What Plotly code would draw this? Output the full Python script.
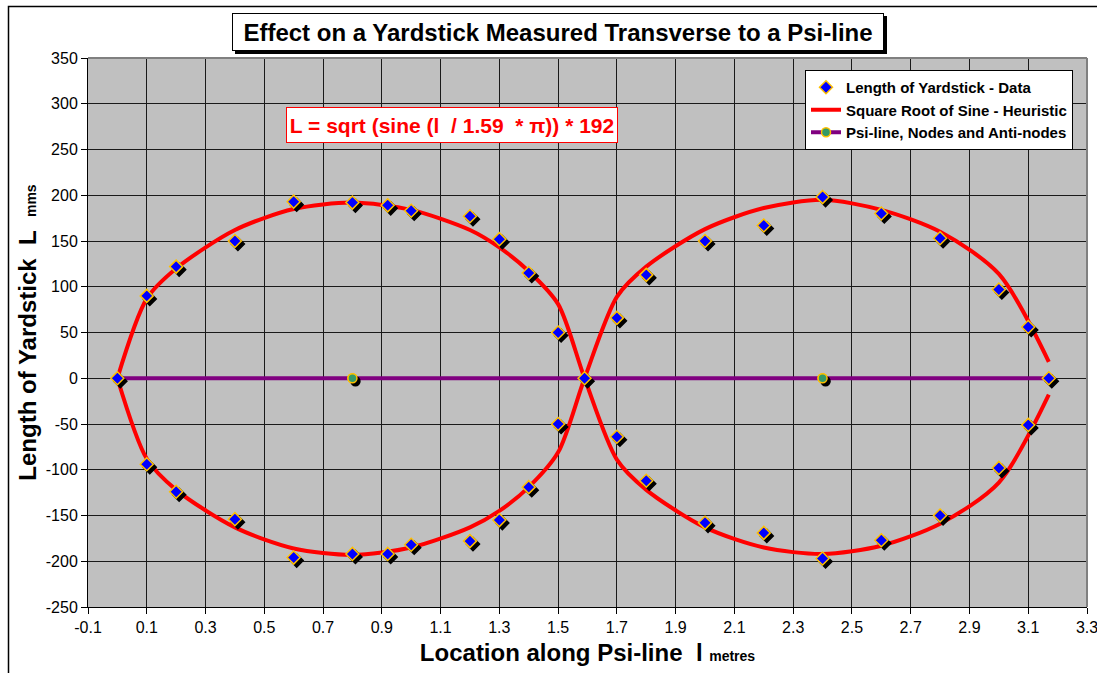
import plotly.graph_objects as go

# ---------------- data ----------------
data_x_upper = [0, 0.1, 0.2, 0.4, 0.6, 0.8, 0.92, 1.0, 1.2, 1.3, 1.4, 1.5, 1.59,
                1.7, 1.8, 2.0, 2.2, 2.4, 2.6, 2.8, 3.0, 3.1, 3.17]
data_y_upper = [0, 90, 122, 150, 193, 192, 189, 183, 177, 152, 115, 50, 0,
                66, 113, 150, 167, 198, 180, 153, 97, 56, 0]
data_x_lower = [0.1, 0.2, 0.4, 0.6, 0.8, 0.92, 1.0, 1.2, 1.3, 1.4, 1.5,
                1.7, 1.8, 2.0, 2.2, 2.4, 2.6, 2.8, 3.0, 3.1]
data_y_lower = [-94, -124, -154, -196, -192, -192, -182, -178, -155, -119, -50,
                -64, -112, -158, -169, -197, -177, -150, -98, -51]

heur_x = [0, 0.1, 0.2, 0.4, 0.6, 0.8, 1.0, 1.2, 1.3, 1.4, 1.5, 1.59,
          1.7, 1.8, 2.0, 2.2, 2.4, 2.6, 2.8, 3.0, 3.17]
heur_a = [0, 87, 120, 162, 185, 192, 184, 162, 143, 117, 81, 0,
          -89, -122, -163, -185, -192, -183, -159, -114, -18]
heur_b = [0, -88, -122, -163, -186, -193, -185, -163, -145, -119, -81, 0,
          89, 122, 163, 186, 195, 184, 160, 114, 18]

psi_x = [0, 0.8, 1.59, 2.4, 3.17]
psi_y = [0, 0, 0, 0, 0]

x_tick_vals = [-0.1, 0.1, 0.3, 0.5, 0.7, 0.9, 1.1, 1.3, 1.5, 1.7, 1.9, 2.1, 2.3,
               2.5, 2.7, 2.9, 3.1, 3.3]
x_tick_text = ["-0.1", "0.1", "0.3", "0.5", "0.7", "0.9", "1.1", "1.3", "1.5",
               "1.7", "1.9", "2.1", "2.3", "2.5", "2.7", "2.9", "3.1", "3.3"]
y_tick_vals = [-250, -200, -150, -100, -50, 0, 50, 100, 150, 200, 250, 300, 350]
y_tick_text = ["-250", "-200", "-150", "-100", "-50", "0", "50", "100", "150",
               "200", "250", "300", "350"]

# ---------------- styling ----------------
FONT = "Liberation Sans"
W, H = 1097, 673
ML, MR, MT, MB = 88, 10, 58, 66
X_RANGE = [-0.1, 3.3]
Y_RANGE = [-250, 350]
SHADOW_PX = 3
plot_w = W - ML - MR
plot_h = H - MT - MB
dx = SHADOW_PX * (X_RANGE[1] - X_RANGE[0]) / plot_w
dy = SHADOW_PX * (Y_RANGE[1] - Y_RANGE[0]) / plot_h

BLUE = "#0000FF"
GOLD = "#FFC000"
RED = "#FF0000"
PURPLE = "#800080"
GREEN = "#339966"

data_x = data_x_upper + data_x_lower
data_y = data_y_upper + data_y_lower
anti_x = [psi_x[1], psi_x[3]]
anti_y = [psi_y[1], psi_y[3]]

fig = go.Figure()

# main layer: psi line and heuristic curves
fig.add_trace(go.Scatter(
    x=psi_x, y=psi_y, mode="lines+markers", name="Psi-line, Nodes and Anti-nodes",
    line=dict(color=PURPLE, width=4),
    marker=dict(symbol="circle", size=9, color=GREEN, line=dict(color=GOLD, width=1.5)),
    legendrank=3, legendgroup="c", hoverinfo="skip"))
fig.add_trace(go.Scatter(
    x=heur_x, y=heur_a, mode="lines", name="Square Root of Sine - Heuristic",
    line=dict(color=RED, width=4, shape="spline", smoothing=0.8),
    legendrank=2, legendgroup="b", hoverinfo="skip"))
fig.add_trace(go.Scatter(
    x=heur_x, y=heur_b, mode="lines", name="Square Root of Sine - Heuristic",
    line=dict(color=RED, width=4, shape="spline", smoothing=0.8),
    showlegend=False, legendgroup="b", hoverinfo="skip"))

# shadow layer (same values, axes shifted by a few pixels)
fig.add_trace(go.Scatter(
    x=data_x, y=data_y, mode="markers", xaxis="x2", yaxis="y2",
    marker=dict(symbol="diamond", size=10, color="black", line=dict(color="black", width=1.5)),
    showlegend=False, hoverinfo="skip"))
fig.add_trace(go.Scatter(
    x=anti_x, y=anti_y, mode="markers", xaxis="x2", yaxis="y2",
    marker=dict(symbol="circle", size=9, color="black", line=dict(color="black", width=1.5)),
    showlegend=False, hoverinfo="skip"))

# top layer: markers
fig.add_trace(go.Scatter(
    x=anti_x, y=anti_y, mode="markers", xaxis="x3", yaxis="y3",
    marker=dict(symbol="circle", size=9, color=GREEN, line=dict(color=GOLD, width=1.5)),
    showlegend=False, hoverinfo="skip"))
fig.add_trace(go.Scatter(
    x=data_x, y=data_y, mode="markers", xaxis="x3", yaxis="y3",
    name="Length of Yardstick - Data",
    marker=dict(symbol="diamond", size=10, color=BLUE, line=dict(color=GOLD, width=1.5)),
    legendrank=1, legendgroup="a"))

axis_common = dict(showgrid=True, gridcolor="#1a1a1a", gridwidth=1, zeroline=False,
                   showline=True, linecolor="black", linewidth=1,
                   ticks="outside", ticklen=6, tickcolor="black",
                   ticklabeloverflow="allow", automargin=False,
                   tickfont=dict(family=FONT, size=16, color="black"))

fig.update_layout(
    width=W, height=H,
    margin=dict(l=ML, r=MR, t=MT, b=MB, autoexpand=False),
    paper_bgcolor="white", plot_bgcolor="#C0C0C0",
    font=dict(family=FONT, color="black"),
    showlegend=True,
    legend=dict(x=(1073 - ML) / plot_w, xanchor="right",
                y=(H - MB - 70) / plot_h, yanchor="top",
                bgcolor="white", bordercolor="black", borderwidth=1,
                font=dict(family=FONT, size=15, color="black", weight="bold"),
                traceorder="grouped", tracegroupgap=0),
    xaxis=dict(range=X_RANGE, tickvals=x_tick_vals, ticktext=x_tick_text,
               title=dict(text="Location along Psi-line\u00a0\u00a0l <span style='font-size:14px'>metres</span>",
                          font=dict(family=FONT, size=24, color="black", weight="bold"),
                          standoff=8),
               **axis_common),
    yaxis=dict(range=Y_RANGE, tickvals=y_tick_vals, ticktext=y_tick_text,
               title=dict(text="Length of Yardstick\u00a0\u00a0L\u00a0 <span style='font-size:14px'>mms</span>",
                          font=dict(family=FONT, size=24, color="black", weight="bold"),
                          standoff=2),
               **axis_common),
    xaxis2=dict(range=[X_RANGE[0] - dx, X_RANGE[1] - dx], overlaying="x", visible=False),
    yaxis2=dict(range=[Y_RANGE[0] + dy, Y_RANGE[1] + dy], overlaying="y", visible=False),
    xaxis3=dict(range=X_RANGE, overlaying="x", visible=False),
    yaxis3=dict(range=Y_RANGE, overlaying="y", visible=False),
)

# plot-area border (top, right) and outer chart frame
fig.add_shape(type="line", xref="x domain", yref="y domain", x0=0, x1=1, y0=1, y1=1,
              line=dict(color="#808080", width=2))
fig.add_shape(type="line", xref="x domain", yref="y domain", x0=1, x1=1, y0=0, y1=1,
              line=dict(color="#808080", width=2))
fig.add_shape(type="rect", xref="paper", yref="paper",
              x0=(8.5 - ML) / plot_w, x1=1.2, y0=-0.3, y1=(H - MB - 6.5) / plot_h,
              line=dict(color="black", width=1.5), fillcolor="rgba(0,0,0,0)")

title_text = "Effect on a Yardstick Measured Transverse to a Psi-line"
tx = (558 - ML) / plot_w
ty = (H - MB - 32) / plot_h
# shadow of the title box (empty text, same box size)
fig.add_annotation(text=" ", xref="paper", yref="paper", x=tx, y=ty,
                   xanchor="center", yanchor="middle", showarrow=False,
                   width=646, height=32, borderpad=2, bgcolor="black",
                   bordercolor="black", borderwidth=1, xshift=3, yshift=-3,
                   font=dict(family=FONT, size=24, color="black"))
fig.add_annotation(text=title_text, xref="paper", yref="paper", x=tx, y=ty,
                   xanchor="center", yanchor="middle", showarrow=False,
                   width=646, height=32, borderpad=2, bgcolor="white",
                   bordercolor="black", borderwidth=1,
                   font=dict(family=FONT, size=24, color="black", weight="bold"))

formula = "L = sqrt (sine (l\u00a0 / 1.59\u00a0 * \u03c0)) * 192"
fig.add_annotation(text=formula, xref="paper", yref="paper",
                   x=(452 - ML) / plot_w, y=(H - MB - 125) / plot_h,
                   xanchor="center", yanchor="middle", showarrow=False,
                   width=326, height=30, borderpad=2, bgcolor="white",
                   bordercolor=RED, borderwidth=1,
                   font=dict(family=FONT, size=21, color=RED, weight="bold"))

fig.write_html("out.html", config={"displayModeBar": False},
               post_script="document.body.style.margin='0px';")
